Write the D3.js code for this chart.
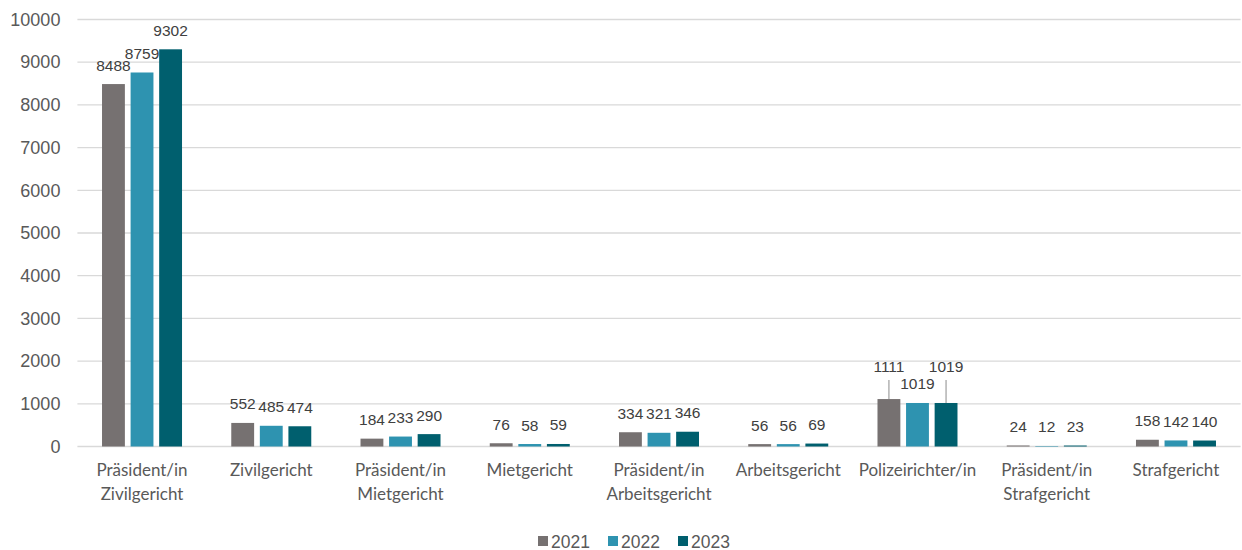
<!DOCTYPE html>
<html><head><meta charset="utf-8">
<script src="https://cdn.jsdelivr.net/npm/d3@7"></script>
<style>body{margin:0;background:#fff;}svg{display:block;}</style>
</head><body>
<svg id="chart" width="1242" height="550"></svg>
<script>
const categories = ["Präsident/in\nZivilgericht","Zivilgericht","Präsident/in\nMietgericht","Mietgericht","Präsident/in\nArbeitsgericht","Arbeitsgericht","Polizeirichter/in","Präsident/in\nStrafgericht","Strafgericht"];
const series = ["2021","2022","2023"];
const values2021 = [8488,552,184,76,334,56,1111,24,158];
const values2022 = [8759,485,233,58,321,56,1019,12,142];
const values2023 = [9302,474,290,59,346,69,1019,23,140];
const yTicks = [0,1000,2000,3000,4000,5000,6000,7000,8000,9000,10000];
const colors = ["#767171","#2E93B0","#005F6E"];
const allValues = [values2021, values2022, values2023];

const svg = d3.select("#chart");
const mLeft = 77.4, mRight = 1240.6, mTop = 19.5, mBottom = 446.5;
const y = d3.scaleLinear().domain([0,10000]).range([mBottom, mTop]);
const x0 = d3.scaleBand().domain(categories).range([mLeft, mRight]).paddingInner(0).paddingOuter(0);
const x1 = d3.scaleBand().domain(series).range([0, 80]).paddingInner(0.2);
const numFont = "'Liberation Sans', Arial, sans-serif";

// gridlines
svg.append("g").selectAll("line").data(yTicks).join("line")
  .attr("x1", mLeft).attr("x2", mRight)
  .attr("y1", d => y(d)).attr("y2", d => y(d))
  .attr("stroke", "#d9d9d9").attr("stroke-width", 1.3);

// y axis labels
const yAxis = d3.axisLeft(y).tickValues(yTicks).tickSize(0).tickPadding(0).tickFormat(d3.format("d"));
const ya = svg.append("g").attr("transform", `translate(${mLeft-17},0)`).call(yAxis);
ya.select(".domain").remove();
ya.selectAll("text").attr("font-family", numFont).attr("font-size", 18).attr("fill", "#595959");

// bars
const groupOffset = (x0.bandwidth() - 80) / 2;
const groups = svg.append("g").selectAll("g").data(categories).join("g")
  .attr("transform", d => `translate(${x0(d) + groupOffset},0)`);

groups.each(function(cat, ci) {
  const g = d3.select(this);
  series.forEach((s, si) => {
    const v = allValues[si][ci];
    g.append("rect")
      .attr("x", x1(s)).attr("width", x1.bandwidth())
      .attr("y", y(v)).attr("height", mBottom - y(v))
      .attr("fill", colors[si]);
    let ly = y(v) - 13.5;
    const cx = x1(s) + x1.bandwidth()/2;
    if (ci === 6 && si !== 1) {
      ly = y(1111) - 27;
      g.append("line").attr("x1", cx).attr("x2", cx)
        .attr("y1", y(v)).attr("y2", ly + 8)
        .attr("stroke", "#a6a6a6").attr("stroke-width", 1.3);
    }
    g.append("text").attr("x", cx).attr("y", ly)
      .attr("text-anchor", "middle")
      .attr("font-family", numFont)
      .attr("font-size", 15.5).attr("fill", "#404040")
      .text(v);
  });
});

// x labels
const xl = svg.append("g").selectAll("text").data(categories).join("text")
  .attr("x", d => x0(d) + x0.bandwidth()/2)
  .attr("y", 476)
  .attr("text-anchor", "middle")
  .attr("font-family", "Lato, 'Open Sans', sans-serif")
  .attr("font-size", 17).attr("fill", "#595959");
xl.each(function(d) {
  const t = d3.select(this);
  d.split("\n").forEach((line, i) => {
    t.append("tspan").attr("x", x0(d) + x0.bandwidth()/2).attr("dy", i === 0 ? 0 : 23.5).text(line);
  });
});

// legend
const legendX = [538, 608, 678];
const lg = svg.append("g").selectAll("g").data(series).join("g")
  .attr("transform", (d, i) => `translate(${legendX[i]},541)`);
lg.append("rect").attr("x", 0).attr("y", -5).attr("width", 10).attr("height", 10)
  .attr("fill", (d, i) => colors[i]);
lg.append("text").attr("x", 13).attr("y", 6.5)
  .attr("font-family", numFont)
  .attr("font-size", 17.5).attr("fill", "#595959").text(d => d);
</script>
</body></html>
